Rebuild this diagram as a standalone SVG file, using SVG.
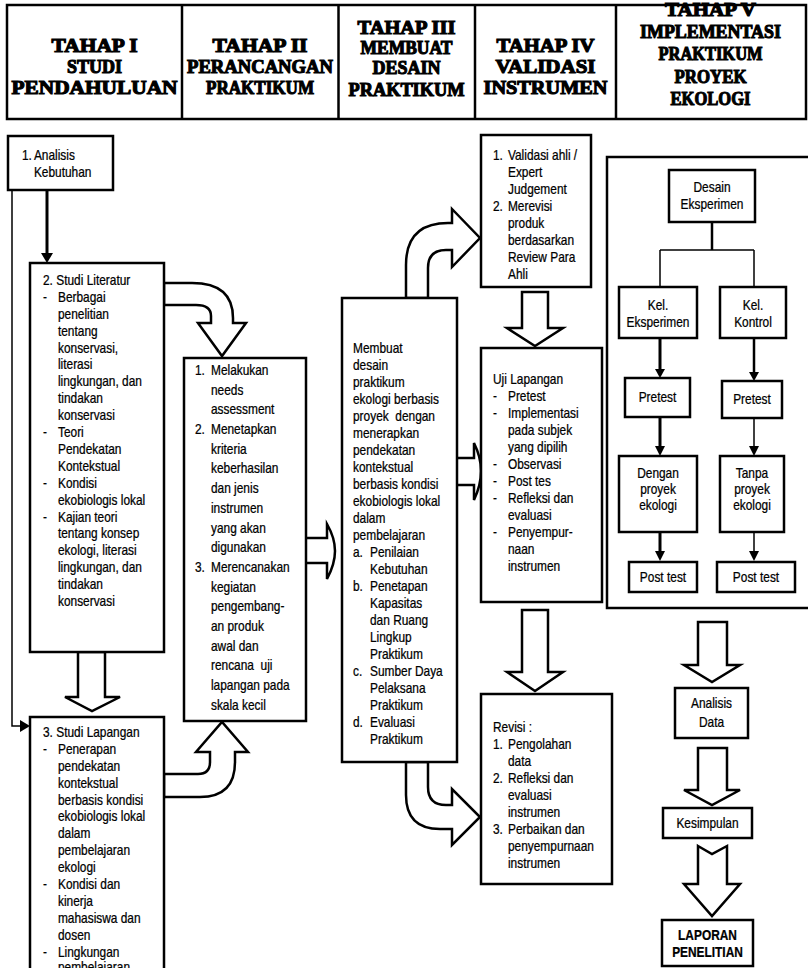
<svg xmlns="http://www.w3.org/2000/svg" width="808" height="968" viewBox="0 0 808 968">
<style>
.t{font-family:"Liberation Sans",Arial,sans-serif;font-size:14px;fill:#000;stroke:#000;stroke-width:0.25}
.c{text-anchor:middle}
.b{font-weight:bold}
.h{font-family:"Liberation Serif","Times New Roman",serif;font-weight:bold;font-size:19px;text-anchor:middle;fill:#000;stroke:#000;stroke-width:1.1}
.box{fill:#fff;stroke:#000;stroke-width:2.5}
.blk{fill:#fff;stroke:#000;stroke-width:2.5;stroke-linejoin:miter}
.ln{fill:none;stroke:#000}
</style>
<rect width="808" height="968" fill="#fff"/>

<g id="header">
<rect x="7" y="5" width="799" height="114" fill="none" stroke="#000" stroke-width="2.5"/>
<line x1="182" y1="5" x2="182" y2="119" stroke="#000" stroke-width="2.5"/>
<line x1="338.5" y1="5" x2="338.5" y2="119" stroke="#000" stroke-width="2.5"/>
<line x1="475" y1="5" x2="475" y2="119" stroke="#000" stroke-width="2.5"/>
<line x1="616" y1="5" x2="616" y2="119" stroke="#000" stroke-width="2.5"/>
<text class="h" x="94.5" y="52" textLength="86" lengthAdjust="spacingAndGlyphs">TAHAP I</text>
<text class="h" x="94.5" y="73" textLength="55" lengthAdjust="spacingAndGlyphs">STUDI</text>
<text class="h" x="94.5" y="94" textLength="166" lengthAdjust="spacingAndGlyphs">PENDAHULUAN</text>
<text class="h" x="260" y="52" textLength="95" lengthAdjust="spacingAndGlyphs">TAHAP II</text>
<text class="h" x="260" y="73" textLength="146" lengthAdjust="spacingAndGlyphs">PERANCANGAN</text>
<text class="h" x="260" y="94" textLength="108" lengthAdjust="spacingAndGlyphs">PRAKTIKUM</text>
<text class="h" x="406.5" y="34" textLength="98" lengthAdjust="spacingAndGlyphs">TAHAP III</text>
<text class="h" x="406.5" y="54" textLength="92" lengthAdjust="spacingAndGlyphs">MEMBUAT</text>
<text class="h" x="406.5" y="74" textLength="68" lengthAdjust="spacingAndGlyphs">DESAIN</text>
<text class="h" x="406.5" y="96" textLength="116" lengthAdjust="spacingAndGlyphs">PRAKTIKUM</text>
<text class="h" x="545.5" y="52" textLength="98" lengthAdjust="spacingAndGlyphs">TAHAP IV</text>
<text class="h" x="545.5" y="73" textLength="100" lengthAdjust="spacingAndGlyphs">VALIDASI</text>
<text class="h" x="545.5" y="94" textLength="124" lengthAdjust="spacingAndGlyphs">INSTRUMEN</text>
<text class="h" x="710.5" y="16" textLength="91" lengthAdjust="spacingAndGlyphs">TAHAP V</text>
<text class="h" x="710.5" y="38" textLength="141" lengthAdjust="spacingAndGlyphs">IMPLEMENTASI</text>
<text class="h" x="710.5" y="60" textLength="104" lengthAdjust="spacingAndGlyphs">PRAKTIKUM</text>
<text class="h" x="710.5" y="83" textLength="72" lengthAdjust="spacingAndGlyphs">PROYEK</text>
<text class="h" x="710.5" y="105" textLength="80" lengthAdjust="spacingAndGlyphs">EKOLOGI</text>
</g>

<g id="connectors">
<line class="ln" x1="47" y1="190" x2="47" y2="255" stroke-width="3"/>
<polygon points="41,253 53,253 47,263" fill="#000"/>
<polyline class="ln" points="12,190 12,726 22,726" stroke-width="1.5"/>
<polygon points="20,720 20,732 30,726" fill="#000"/>
<path class="blk" d="M164,283 H192 Q233,283 233,318 V323 H246 L222,356 L198,323 H211 V316 Q211,305 196,305 H164 Z"/>
<path class="blk" d="M78,652 V697 H65 L92,711 L120,697 H105 V652 Z"/>
<path class="blk" d="M164,797 H200 Q235,797 235,762 V752 H248 L222,722 L196,752 H210 V762 Q210,774 198,774 H164 Z"/>
<path class="blk" d="M306,538 H327 V524 Q335,538 335,551 Q335,564 327,579 V563 H306"/>
<path class="blk" d="M457,458 H474 V443 Q481,457 481,471 Q481,485 474,500 V485 H457"/>
<path class="blk" d="M406,298 V265 Q406,223 448,223 H452 V209 L480,238 L452,267 V250 H446 Q428,250 428,268 V298 Z"/>
<path class="blk" d="M406,762 V795 Q406,829 440,829 H452 V845 L480,817 L452,789 V805 H446 Q428,805 428,787 V762 Z"/>
<path class="blk" d="M522,292 V328 H507 L535,346 L563,328 H548 V292 Z"/>
<path class="blk" d="M522,610 V672 H507 L535,691 L563,672 H548 V610 Z"/>
<path class="blk" d="M698,622 V665 H684 L712,682 L740,665 H727 V622 Z"/>
<path class="blk" d="M698,748 V790 H684 L712,805 L740,790 H727 V748 Z"/>
<path class="blk" d="M698,846 L712,854 L727,846 V884 H740 L712,916 L684,884 H698 Z"/>
<line class="ln" x1="712" y1="222" x2="712" y2="250" stroke-width="2.5"/>
<line class="ln" x1="660" y1="250" x2="754" y2="250" stroke-width="1.5"/>
<line class="ln" x1="660" y1="250" x2="660" y2="287" stroke-width="1.5"/>
<line class="ln" x1="754" y1="250" x2="754" y2="287" stroke-width="1.5"/>
<line class="ln" x1="660" y1="338" x2="660" y2="370" stroke-width="3"/>
<polygon points="655,369 665,369 660,378" fill="#000"/>
<line class="ln" x1="754" y1="338" x2="754" y2="373" stroke-width="2.5"/>
<polygon points="749,372 759,372 754,381" fill="#000"/>
<line class="ln" x1="660" y1="417" x2="660" y2="447" stroke-width="3"/>
<polygon points="655,446 665,446 660,456" fill="#000"/>
<line class="ln" x1="754" y1="418" x2="754" y2="447" stroke-width="1.5"/>
<polygon points="749,446 759,446 754,456" fill="#000"/>
<line class="ln" x1="660" y1="532" x2="660" y2="552" stroke-width="3"/>
<polygon points="655,551 665,551 660,561" fill="#000"/>
<line class="ln" x1="754" y1="532" x2="754" y2="552" stroke-width="1.5"/>
<polygon points="749,551 759,551 754,561" fill="#000"/>
</g>

<g id="analisis-kebutuhan">
<rect class="box" x="8" y="136" width="105" height="54"/>
<g transform="translate(22,0) scale(0.85,1)">
<text class="t" x="0" y="160">1.</text><text class="t" x="14" y="160">Analisis</text>
<text class="t" x="14" y="177">Kebutuhan</text>
</g>
</g>

<g id="studi-literatur">
<rect class="box" x="30" y="263" width="134" height="389"/>
<g transform="translate(43,0) scale(0.85,1)">
<text class="t" x="0" y="285">2. Studi Literatur</text>
<text class="t" x="0" y="301.9">-</text><text class="t" x="17.6" y="301.9">Berbagai</text>
<text class="t" x="17.6" y="318.8">penelitian</text>
<text class="t" x="17.6" y="335.7">tentang</text>
<text class="t" x="17.6" y="352.6">konservasi,</text>
<text class="t" x="17.6" y="369.5">literasi</text>
<text class="t" x="17.6" y="386.4">lingkungan, dan</text>
<text class="t" x="17.6" y="403.3">tindakan</text>
<text class="t" x="17.6" y="420.2">konservasi</text>
<text class="t" x="0" y="437.1">-</text><text class="t" x="17.6" y="437.1">Teori</text>
<text class="t" x="17.6" y="454">Pendekatan</text>
<text class="t" x="17.6" y="470.9">Kontekstual</text>
<text class="t" x="0" y="487.8">-</text><text class="t" x="17.6" y="487.8">Kondisi</text>
<text class="t" x="17.6" y="504.7">ekobiologis lokal</text>
<text class="t" x="0" y="521.6">-</text><text class="t" x="17.6" y="521.6">Kajian teori</text>
<text class="t" x="17.6" y="538.5">tentang konsep</text>
<text class="t" x="17.6" y="555.4">ekologi, literasi</text>
<text class="t" x="17.6" y="572.3">lingkungan, dan</text>
<text class="t" x="17.6" y="589.2">tindakan</text>
<text class="t" x="17.6" y="606.1">konservasi</text>
</g>
</g>

<g id="studi-lapangan">
<rect class="box" x="30" y="717" width="134" height="270"/>
<g transform="translate(43,0) scale(0.85,1)">
<text class="t" x="0" y="737">3. Studi Lapangan</text>
<text class="t" x="0" y="753.9">-</text><text class="t" x="17.6" y="753.9">Penerapan</text>
<text class="t" x="17.6" y="770.8">pendekatan</text>
<text class="t" x="17.6" y="787.7">kontekstual</text>
<text class="t" x="17.6" y="804.6">berbasis kondisi</text>
<text class="t" x="17.6" y="821.5">ekobiologis lokal</text>
<text class="t" x="17.6" y="838.4">dalam</text>
<text class="t" x="17.6" y="855.3">pembelajaran</text>
<text class="t" x="17.6" y="872.2">ekologi</text>
<text class="t" x="0" y="889.1">-</text><text class="t" x="17.6" y="889.1">Kondisi dan</text>
<text class="t" x="17.6" y="906">kinerja</text>
<text class="t" x="17.6" y="922.9">mahasiswa dan</text>
<text class="t" x="17.6" y="939.8">dosen</text>
<text class="t" x="0" y="956.7">-</text><text class="t" x="17.6" y="956.7">Lingkungan</text>
<text class="t" x="17.6" y="972">pembelajaran</text>
</g>
</g>

<g id="perancangan">
<rect class="box" x="184" y="358" width="122" height="363"/>
<g transform="translate(195,0) scale(0.85,1)">
<text class="t" x="0" y="375">1.</text><text class="t" x="18.8" y="375">Melakukan</text>
<text class="t" x="18.8" y="394.7">needs</text>
<text class="t" x="18.8" y="414.4">assessment</text>
<text class="t" x="0" y="434.1">2.</text><text class="t" x="18.8" y="434.1">Menetapkan</text>
<text class="t" x="18.8" y="453.8">kriteria</text>
<text class="t" x="18.8" y="473.5">keberhasilan</text>
<text class="t" x="18.8" y="493.2">dan jenis</text>
<text class="t" x="18.8" y="512.9">instrumen</text>
<text class="t" x="18.8" y="532.6">yang akan</text>
<text class="t" x="18.8" y="552.3">digunakan</text>
<text class="t" x="0" y="572">3.</text><text class="t" x="18.8" y="572">Merencanakan</text>
<text class="t" x="18.8" y="591.7">kegiatan</text>
<text class="t" x="18.8" y="611.4">pengembang-</text>
<text class="t" x="18.8" y="631.1">an produk</text>
<text class="t" x="18.8" y="650.8">awal dan</text>
<text class="t" x="18.8" y="670.5" xml:space="preserve">rencana  uji</text>
<text class="t" x="18.8" y="690.2">lapangan pada</text>
<text class="t" x="18.8" y="709.9">skala kecil</text>
</g>
</g>

<g id="membuat-desain">
<rect class="box" x="342" y="298" width="115" height="464"/>
<g transform="translate(353,0) scale(0.85,1)">
<text class="t" x="0" y="353">Membuat</text>
<text class="t" x="0" y="370">desain</text>
<text class="t" x="0" y="387">praktikum</text>
<text class="t" x="0" y="404">ekologi berbasis</text>
<text class="t" x="0" y="421" xml:space="preserve">proyek  dengan</text>
<text class="t" x="0" y="438">menerapkan</text>
<text class="t" x="0" y="455">pendekatan</text>
<text class="t" x="0" y="472">kontekstual</text>
<text class="t" x="0" y="489">berbasis kondisi</text>
<text class="t" x="0" y="506">ekobiologis lokal</text>
<text class="t" x="0" y="523">dalam</text>
<text class="t" x="0" y="540">pembelajaran</text>
<text class="t" x="0" y="557">a.</text><text class="t" x="20" y="557">Penilaian</text>
<text class="t" x="20" y="574">Kebutuhan</text>
<text class="t" x="0" y="591">b.</text><text class="t" x="20" y="591">Penetapan</text>
<text class="t" x="20" y="608">Kapasitas</text>
<text class="t" x="20" y="625">dan Ruang</text>
<text class="t" x="20" y="642">Lingkup</text>
<text class="t" x="20" y="659">Praktikum</text>
<text class="t" x="0" y="676">c.</text><text class="t" x="20" y="676">Sumber Daya</text>
<text class="t" x="20" y="693">Pelaksana</text>
<text class="t" x="20" y="710">Praktikum</text>
<text class="t" x="0" y="727">d.</text><text class="t" x="20" y="727">Evaluasi</text>
<text class="t" x="20" y="744">Praktikum</text>
</g>
</g>

<g id="validasi">
<rect class="box" x="481" y="135" width="110" height="152"/>
<g transform="translate(493,0) scale(0.85,1)">
<text class="t" x="0" y="160">1.</text><text class="t" x="17.6" y="160">Validasi ahli /</text>
<text class="t" x="17.6" y="177">Expert</text>
<text class="t" x="17.6" y="194">Judgement</text>
<text class="t" x="0" y="211">2.</text><text class="t" x="17.6" y="211">Merevisi</text>
<text class="t" x="17.6" y="228">produk</text>
<text class="t" x="17.6" y="245">berdasarkan</text>
<text class="t" x="17.6" y="262">Review Para</text>
<text class="t" x="17.6" y="279">Ahli</text>
</g>
</g>

<g id="uji-lapangan">
<rect class="box" x="481" y="348" width="121" height="254"/>
<g transform="translate(493,0) scale(0.85,1)">
<text class="t" x="0" y="384">Uji Lapangan</text>
<text class="t" x="0" y="401">-</text><text class="t" x="17.6" y="401">Pretest</text>
<text class="t" x="0" y="418">-</text><text class="t" x="17.6" y="418">Implementasi</text>
<text class="t" x="17.6" y="435">pada subjek</text>
<text class="t" x="17.6" y="452">yang dipilih</text>
<text class="t" x="0" y="469">-</text><text class="t" x="17.6" y="469">Observasi</text>
<text class="t" x="0" y="486">-</text><text class="t" x="17.6" y="486">Post tes</text>
<text class="t" x="0" y="503">-</text><text class="t" x="17.6" y="503">Refleksi dan</text>
<text class="t" x="17.6" y="520">evaluasi</text>
<text class="t" x="0" y="537">-</text><text class="t" x="17.6" y="537">Penyempur-</text>
<text class="t" x="17.6" y="554">naan</text>
<text class="t" x="17.6" y="571">instrumen</text>
</g>
</g>

<g id="revisi">
<rect class="box" x="481" y="694" width="131" height="190"/>
<g transform="translate(493,0) scale(0.85,1)">
<text class="t" x="0" y="732">Revisi :</text>
<text class="t" x="0" y="749">1.</text><text class="t" x="17.6" y="749">Pengolahan</text>
<text class="t" x="17.6" y="766">data</text>
<text class="t" x="0" y="783">2.</text><text class="t" x="17.6" y="783">Refleksi dan</text>
<text class="t" x="17.6" y="800">evaluasi</text>
<text class="t" x="17.6" y="817">instrumen</text>
<text class="t" x="0" y="834">3.</text><text class="t" x="17.6" y="834">Perbaikan dan</text>
<text class="t" x="17.6" y="851">penyempurnaan</text>
<text class="t" x="17.6" y="868">instrumen</text>
</g>
</g>

<g id="implementasi-frame">
<rect x="607" y="157" width="215" height="451" fill="none" stroke="#000" stroke-width="2.5"/>
</g>

<g id="desain-eksperimen">
<rect class="box" x="669" y="170" width="86" height="52"/>
<g transform="translate(712,0) scale(0.85,1)">
<text class="t c" x="0" y="192">Desain</text>
<text class="t c" x="0" y="209">Eksperimen</text>
</g>
</g>
<g id="kel-eksperimen">
<rect class="box" x="619" y="287" width="78" height="51"/>
<g transform="translate(658,0) scale(0.85,1)">
<text class="t c" x="0" y="310">Kel.</text>
<text class="t c" x="0" y="327">Eksperimen</text>
</g>
</g>
<g id="kel-kontrol">
<rect class="box" x="720" y="287" width="66" height="51"/>
<g transform="translate(753,0) scale(0.85,1)">
<text class="t c" x="0" y="310">Kel.</text>
<text class="t c" x="0" y="327">Kontrol</text>
</g>
</g>
<g id="pretest-1">
<rect class="box" x="625" y="378" width="65" height="39"/>
<g transform="translate(657.5,0) scale(0.85,1)"><text class="t c" x="0" y="402">Pretest</text></g>
</g>
<g id="pretest-2">
<rect class="box" x="722" y="381" width="60" height="37"/>
<g transform="translate(752,0) scale(0.85,1)"><text class="t c" x="0" y="404">Pretest</text></g>
</g>
<g id="dengan-proyek">
<rect class="box" x="619" y="456" width="78" height="76"/>
<g transform="translate(658,0) scale(0.85,1)">
<text class="t c" x="0" y="478">Dengan</text>
<text class="t c" x="0" y="494">proyek</text>
<text class="t c" x="0" y="510">ekologi</text>
</g>
</g>
<g id="tanpa-proyek">
<rect class="box" x="720" y="456" width="64" height="76"/>
<g transform="translate(752,0) scale(0.85,1)">
<text class="t c" x="0" y="478">Tanpa</text>
<text class="t c" x="0" y="494">proyek</text>
<text class="t c" x="0" y="510">ekologi</text>
</g>
</g>
<g id="posttest-1">
<rect class="box" x="629" y="562" width="68" height="30"/>
<g transform="translate(663,0) scale(0.85,1)"><text class="t c" x="0" y="582">Post test</text></g>
</g>
<g id="posttest-2">
<rect class="box" x="717" y="562" width="78" height="30"/>
<g transform="translate(756,0) scale(0.85,1)"><text class="t c" x="0" y="582">Post test</text></g>
</g>

<g id="analisis-data">
<rect class="box" x="675" y="688" width="73" height="50"/>
<g transform="translate(711.5,0) scale(0.85,1)">
<text class="t c" x="0" y="708">Analisis</text>
<text class="t c" x="0" y="727">Data</text>
</g>
</g>
<g id="kesimpulan">
<rect class="box" x="663" y="808" width="89" height="30"/>
<g transform="translate(707.5,0) scale(0.85,1)"><text class="t c" x="0" y="828">Kesimpulan</text></g>
</g>
<g id="laporan">
<rect class="box" x="662" y="920" width="91" height="46"/>
<g transform="translate(707.5,0) scale(0.85,1)">
<text class="t c b" x="0" y="940">LAPORAN</text>
<text class="t c b" x="0" y="957">PENELITIAN</text>
</g>
</g>
</svg>
